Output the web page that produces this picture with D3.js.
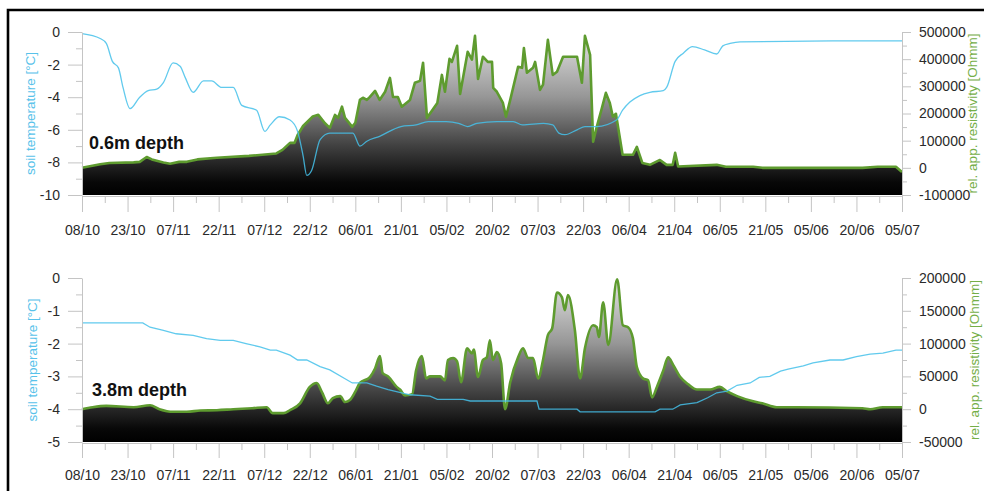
<!DOCTYPE html>
<html><head><meta charset="utf-8">
<script src="https://cdn.jsdelivr.net/npm/d3@7/dist/d3.min.js"></script>
<style>
body{margin:0;background:#fff;}
svg{display:block;font-family:"Liberation Sans",Arial,Helvetica,sans-serif;}
</style>
</head><body>
<svg id="c" width="984" height="491"></svg>
<script>
// x axis: days since 08/10
const dateLabels = ["08/10","23/10","07/11","22/11","07/12","22/12","06/01","21/01","05/02","20/02","07/03","22/03","06/04","21/04","06/05","21/05","05/06","20/06","05/07"];
const dayTicks = [0,15,30,45,60,75,90,105,120,135,150,165,180,195,210,225,240,255,270];
const dayMinor = [7.5,22.5,37.5,52.5,67.5,82.5,97.5,112.5,127.5,142.5,157.5,172.5,187.5,202.5,217.5,232.5,247.5,262.5];

// 0.6 m depth : soil temperature [°C]
const temp06 = [[0,-0.1],[6,-0.4],[8,-0.7],[10,-1.8],[12,-2.2],[13.5,-3.4],[15.8,-4.7],[19,-4.0],[21.8,-3.6],[24.6,-3.5],[26.8,-3.1],[30,-1.9],[32.3,-2.1],[34,-2.8],[36.6,-3.7],[40,-3.0],[42.7,-3.0],[46,-3.4],[49.8,-3.4],[52.6,-4.5],[57.5,-4.8],[60.2,-6.1],[62,-5.7],[65,-5.2],[68.5,-5.4],[71,-6.1],[72.8,-7.6],[74,-8.8],[75.6,-8.5],[78.4,-6.6],[81.6,-6.2],[89.2,-6.2],[91.5,-7.0],[93.8,-6.7],[98,-6.4],[105,-5.8],[110,-5.7],[114,-5.5],[120,-5.5],[124,-5.6],[127,-5.8],[130,-5.6],[136.6,-5.5],[142,-5.5],[145,-5.7],[152,-5.6],[155,-5.7],[157,-6.2],[159,-6.3],[163,-6.0],[165.6,-5.8],[169.5,-5.8],[176,-5.4],[178,-4.8],[180.4,-4.3],[183.7,-3.9],[187,-3.7],[191.4,-3.6],[192.5,-3.4],[195.3,-1.8],[198,-1.3],[201,-0.9],[205,-1.1],[209,-1.35],[211,-0.85],[213.4,-0.7],[216.7,-0.6],[247,-0.55],[270,-0.55]];
// 0.6 m depth : rel. app. resistivity [Ohmm]
const res06 = [[0,0],[6,13000],[9,18000],[17,20000],[19,22000],[21.3,40000],[23,31000],[26.8,20000],[29,15000],[32,22000],[34.5,22000],[38,31000],[44.4,37000],[55,44000],[64,53000],[66,66000],[68.5,92000],[70,92000],[71,121000],[72.8,154000],[76,189000],[77.8,195000],[80,164000],[81.6,147000],[83.3,195000],[84.3,184000],[85.6,225000],[86.6,184000],[89,151000],[90,166000],[91.5,250000],[92.5,258000],[93.8,250000],[94.8,261000],[96.5,283000],[98,250000],[99.8,280000],[101.4,331000],[102.4,261000],[104,261000],[105.3,225000],[108,250000],[109.6,313000],[111.3,320000],[112.3,387000],[113.6,184000],[117,239000],[118.5,342000],[119.5,280000],[121,401000],[121.8,390000],[123.5,449000],[124.5,272000],[127,427000],[128.4,398000],[129.4,486000],[130.4,327000],[132,409000],[133.6,390000],[135,390000],[135.4,294000],[136.6,280000],[138.6,239000],[139.6,188000],[141,250000],[143.6,372000],[144.9,368000],[145.5,441000],[146.5,350000],[148.5,368000],[149.2,390000],[150.8,287000],[151.8,306000],[153.4,471000],[155,342000],[156.4,354000],[158.4,409000],[163,409000],[164.6,313000],[165.6,486000],[167.3,416000],[168.3,96000],[169.5,151000],[171.2,221000],[172.5,276000],[173.8,239000],[174.8,188000],[175.8,199000],[178,48000],[181.4,48000],[182.7,77000],[184.5,18000],[187,11000],[190.3,29000],[192.5,11000],[194.5,11000],[195.3,55000],[196.3,5000],[209,11000],[212,4000],[221,4000],[224,0],[257,0],[262,4000],[268,4000],[270,-15000]];

// 3.8 m depth : soil temperature [°C]
const temp38 = [[0,-1.37],[20,-1.37],[22.4,-1.5],[26.8,-1.6],[31,-1.7],[36.6,-1.75],[41,-1.85],[45.5,-1.9],[49.8,-1.9],[54,-2.0],[58.6,-2.1],[62,-2.2],[64,-2.2],[68.5,-2.35],[71,-2.5],[74,-2.5],[78.4,-2.7],[81.6,-2.8],[89,-3.2],[93.8,-3.2],[97,-3.3],[100.8,-3.4],[108,-3.56],[114.6,-3.6],[117,-3.7],[125.5,-3.7],[127.8,-3.75],[149.8,-3.75],[150.5,-4.0],[163,-4.0],[164,-4.08],[188.7,-4.08],[190.3,-4.0],[194.5,-4.0],[197,-3.87],[202.5,-3.8],[206,-3.65],[209,-3.5],[212.4,-3.45],[215.7,-3.27],[220,-3.2],[223,-3.03],[226.5,-3.0],[230,-2.84],[232.5,-2.78],[237.5,-2.68],[240.7,-2.59],[246.3,-2.5],[250.6,-2.5],[255,-2.4],[259.5,-2.32],[263.7,-2.29],[268,-2.2],[270,-2.2]];
// 3.8 m depth : rel. app. resistivity [Ohmm]
const res38 = [[0,0],[3.5,3000],[8,5000],[17,3000],[22.4,6000],[25.5,0],[30,-4000],[34.5,-4000],[39,-2000],[44.4,-1500],[49.8,0],[56,1500],[60.8,3000],[62.8,-6000],[66.3,-6000],[68.5,-1500],[71.8,9000],[75,34000],[77.3,40000],[79,26000],[81,9000],[82.6,17000],[85,20000],[86.6,11000],[88.2,14000],[89.9,26000],[91.5,40000],[94.8,49000],[96.5,62000],[98.1,81000],[99,55000],[100.8,50000],[103.6,34000],[104.7,30000],[106.4,21000],[108.7,23000],[110,59000],[111.9,81000],[113.3,47000],[114.6,50000],[117.9,50000],[119.5,44000],[120.5,75000],[122.2,78000],[123.5,73000],[124.8,41000],[126.8,93000],[128.4,85000],[129,91000],[130.4,49000],[132,75000],[133.3,79000],[134.3,105000],[135.3,75000],[136.6,87000],[138,70000],[139.3,0],[141,41000],[143.6,79000],[145.2,93000],[146.9,78000],[148.5,78000],[150.2,47000],[151.8,75000],[153.4,113000],[154.8,123000],[156.4,178000],[158,171000],[159,151000],[160,174000],[162.3,120000],[164,47000],[165.6,93000],[168.3,128000],[169.5,125000],[170.2,110000],[171.6,163000],[173.3,98000],[176.2,198000],[178.1,128000],[179.8,125000],[181.4,108000],[182.7,64000],[184.7,47000],[186.4,44000],[187.7,18000],[189.3,34000],[191.4,59000],[193,79000],[194.7,67000],[197,49000],[199.6,38000],[202.5,30000],[206.8,30000],[210,34000],[212.4,27000],[215.7,20000],[221,12000],[224,9000],[228.8,3000],[235,3000],[257,1500],[259.5,0],[263.7,3000],[270,3000]];

const tempTicks06 = [0,-2,-4,-6,-8,-10];
const tempMinor06 = [-1,-3,-5,-7,-9];
const resTicks06 = [500000,400000,300000,200000,100000,0,-100000];
const resMinor06 = [450000,350000,250000,150000,50000,-50000];
const tempTicks38 = [0,-1,-2,-3,-4,-5];
const tempMinor38 = [-0.5,-1.5,-2.5,-3.5,-4.5];
const resTicks38 = [200000,150000,100000,50000,0,-50000];
const resMinor38 = [175000,125000,75000,25000,-25000];

const svg = d3.select("#c");
const x = d3.scaleLinear().domain([0,270]).range([82,902]);
const AX = "#c4c4c4";
const plain = d => String(d);

// frame
svg.append("path").attr("d","M8,495V10H990").attr("fill","none").attr("stroke","#000").attr("stroke-width",2.6);

function panel(o){
  const yT = d3.scaleLinear().domain(o.tDom).range([o.bot,o.top]);
  const yR = d3.scaleLinear().domain(o.rDom).range([o.bot,o.top]);
  const gid = "g"+o.id;
  const grad = svg.append("defs").append("linearGradient").attr("id",gid)
    .attr("gradientUnits","userSpaceOnUse").attr("x1",0).attr("x2",0).attr("y1",o.top).attr("y2",o.bot);
  [[0,"#e6e6e6"],[0.4,"#969696"],[0.7,"#404040"],[0.92,"#080808"],[1,"#000"]].forEach(s=>
    grad.append("stop").attr("offset",s[0]).attr("stop-color",s[1]));

  const area = d3.area().x(d=>x(d[0])).y0(o.bot).y1(d=>yR(d[1])).curve(o.rCurve);
  const rline = d3.line().x(d=>x(d[0])).y(d=>yR(d[1])).curve(o.rCurve);
  const tline = d3.line().x(d=>x(d[0])).y(d=>yT(d[1])).curve(o.tCurve);

  svg.append("path").datum(o.res).attr("d",area).attr("fill","url(#"+gid+")");
  svg.append("path").datum(o.res).attr("d",rline).attr("fill","none")
    .attr("stroke","#5e9b2f").attr("stroke-width",2.6).attr("stroke-linejoin","round");
  svg.append("path").datum(o.temp).attr("d",tline).attr("fill","none")
    .attr("stroke","#45c1ea").attr("stroke-opacity",0.85).attr("stroke-width",1.3);

  // axes
  const styl = g => { g.selectAll("path,line").attr("stroke",AX); g.selectAll("text").attr("fill","#2a2a2a").attr("font-size",14); };
  svg.append("g").attr("transform",`translate(82,0)`)
    .call(d3.axisLeft(yT).tickValues(o.tTicks).tickSize(14).tickSizeOuter(0).tickPadding(8).tickFormat(plain)).call(styl);
  svg.append("g").attr("transform",`translate(82,0)`)
    .call(d3.axisLeft(yT).tickValues(o.tMinor).tickSize(6).tickFormat("")).call(styl).select(".domain").remove();
  svg.append("g").attr("transform",`translate(902,0)`)
    .call(d3.axisRight(yR).tickValues(o.rTicks).tickSize(9).tickSizeOuter(0).tickPadding(8).tickFormat(plain)).call(styl);
  svg.append("g").attr("transform",`translate(902,0)`)
    .call(d3.axisRight(yR).tickValues(o.rMinor).tickSize(5).tickFormat("")).call(styl).select(".domain").remove();
  svg.append("g").attr("transform",`translate(0,${o.bot+1})`)
    .call(d3.axisBottom(x).tickValues(dayTicks).tickSize(o.xt).tickSizeOuter(0).tickPadding(o.xp).tickFormat((d,i)=>dateLabels[i])).call(styl);
  svg.append("g").attr("transform",`translate(0,${o.bot+1})`)
    .call(d3.axisBottom(x).tickValues(dayMinor).tickSize(7).tickFormat("")).call(styl).select(".domain").remove();

  svg.append("text").attr("transform",`translate(${o.ltx},${(o.top+o.bot)/2}) rotate(-90)`)
    .attr("text-anchor","middle").attr("font-size",13.5).attr("fill","#58c2ea").text("soil temperature [°C]");
  svg.append("text").attr("transform",`translate(${o.rtx},${(o.top+o.bot)/2}) rotate(-90)`)
    .attr("text-anchor","middle").attr("font-size",13.5).attr("fill","#74ae47").text("rel. app. resistivity [Ohmm]");
  svg.append("text").attr("x",o.lx).attr("y",o.ly).attr("font-size",18).attr("font-weight","bold")
    .attr("fill","#111").text(o.label);
}

panel({id:"a",top:32,bot:195,tDom:[-10,0],rDom:[-100000,500000],temp:temp06,res:res06,
  tCurve:d3.curveMonotoneX,rCurve:d3.curveLinear,tTicks:tempTicks06,tMinor:tempMinor06,rTicks:resTicks06,rMinor:resMinor06,
  xt:16,xp:13,ltx:35,rtx:977,lx:89,ly:149,label:"0.6m depth"});
panel({id:"b",top:278,bot:442,tDom:[-5,0],rDom:[-50000,200000],temp:temp38,res:res38,
  tCurve:d3.curveLinear,rCurve:d3.curveMonotoneX,tTicks:tempTicks38,tMinor:tempMinor38,rTicks:resTicks38,rMinor:resMinor38,
  xt:15,xp:12,ltx:37,rtx:979,lx:92,ly:396,label:"3.8m depth"});
</script>
</body></html>
